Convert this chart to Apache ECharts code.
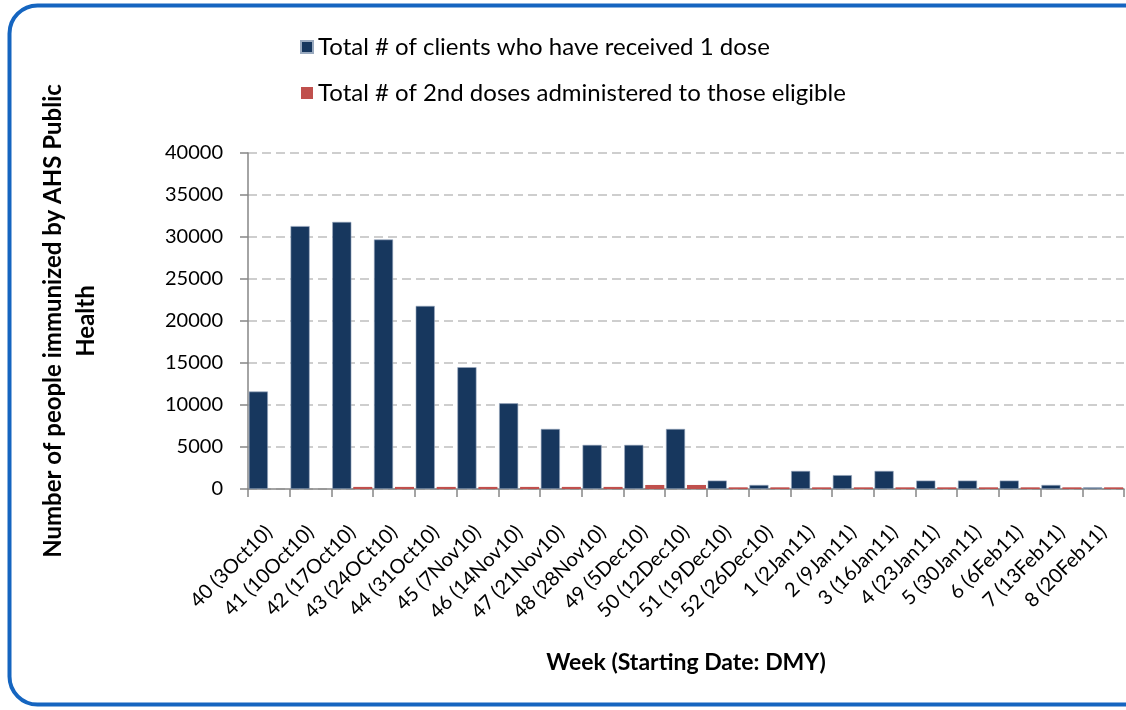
<!DOCTYPE html>
<html>
<head>
<meta charset="utf-8">
<script src="https://cdn.jsdelivr.net/npm/echarts@6/dist/echarts.min.js"></script>
<style>
html,body{margin:0;padding:0;background:#fff;}
#chart{width:1126px;height:710px;}
</style>
</head>
<body>
<div id="chart"></div>
<script>
const weeks = ["40 (3Oct10)","41 (10Oct10)","42 (17Oct10)","43 (24OCt10)","44 (31Oct10)","45 (7Nov10)","46 (14Nov10)","47 (21Nov10)","48 (28Nov10)","49 (5Dec10)","50 (12Dec10)","51 (19Dec10)","52 (26Dec10)","1 (2Jan11)","2 (9Jan11)","3 (16Jan11)","4 (23Jan11)","5 (30Jan11)","6 (6Feb11)","7 (13Feb11)","8 (20Feb11)"];
const firstDose = [11600,31300,31800,29700,21800,14500,10200,7150,5250,5250,7150,1000,480,2150,1650,2150,1000,1000,1000,480,200];
const secondDose = [0,0,250,250,250,250,250,250,250,480,480,200,200,200,200,200,200,200,200,200,200];
const seriesNames = ["Total # of clients who have received 1 dose","Total # of 2nd doses administered to those eligible"];
const yTicks = {min:0,max:40000,interval:5000};

const FONT = 'Lato, "Noto Sans", sans-serif';
const chart = echarts.init(document.getElementById('chart'), null, {renderer:'canvas'});
chart.setOption({
  animation:false,
  backgroundColor:'#fff',
  textStyle:{fontFamily:FONT},
  graphic:[{
    type:'rect', z:-10, silent:true,
    shape:{x:9.5,y:5.5,width:1150,height:699,r:28},
    style:{fill:'none',stroke:'#1565C0',lineWidth:4}
  }],
  legend:{
    orient:'vertical', left:295, top:30,
    itemWidth:12, itemHeight:12, itemGap:22, icon:'rect',
    textStyle:{fontFamily:FONT,fontSize:24,color:'#000'},
    data:seriesNames
  },
  grid:{left:248,right:2,top:153,bottom:221,containLabel:false},
  xAxis:{
    type:'category', data:weeks,
    name:'Week (Starting Date: DMY)', nameLocation:'middle', nameGap:162,
    nameTextStyle:{fontFamily:FONT,fontSize:23,fontWeight:'bold',color:'#000'},
    axisLine:{lineStyle:{color:'#868686',width:1.5}},
    axisTick:{show:true,length:8,lineStyle:{color:'#868686',width:1.5}},
    axisLabel:{interval:0,rotate:45,fontSize:20,color:'#000',margin:40,fontFamily:FONT}
  },
  yAxis:{
    type:'value', min:yTicks.min, max:yTicks.max, interval:yTicks.interval,
    name:'Number of people immunized by AHS Public\nHealth', nameLocation:'middle', nameGap:145,
    nameTextStyle:{fontFamily:FONT,fontSize:24,fontWeight:'bold',color:'#000',lineHeight:33,align:'center'},
    axisLine:{show:true,lineStyle:{color:'#868686',width:1.5}},
    axisTick:{show:true,length:8,lineStyle:{color:'#868686',width:1.5}},
    axisLabel:{fontSize:20,color:'#000',margin:25,fontFamily:FONT,formatter:function(v){return String(v);}},
    splitLine:{show:true,lineStyle:{color:'#BFBFBF',width:1.5,type:[9,5]}}
  },
  series:[
    {name:seriesNames[0],type:'bar',data:firstDose,barCategoryGap:'4%',barGap:'10%',
     itemStyle:{color:'#17375E',borderColor:'#9AAABF',borderWidth:0.6}},
    {name:seriesNames[1],type:'bar',data:secondDose,
     itemStyle:{color:'#C0504D'}}
  ]
});
</script>
</body>
</html>
